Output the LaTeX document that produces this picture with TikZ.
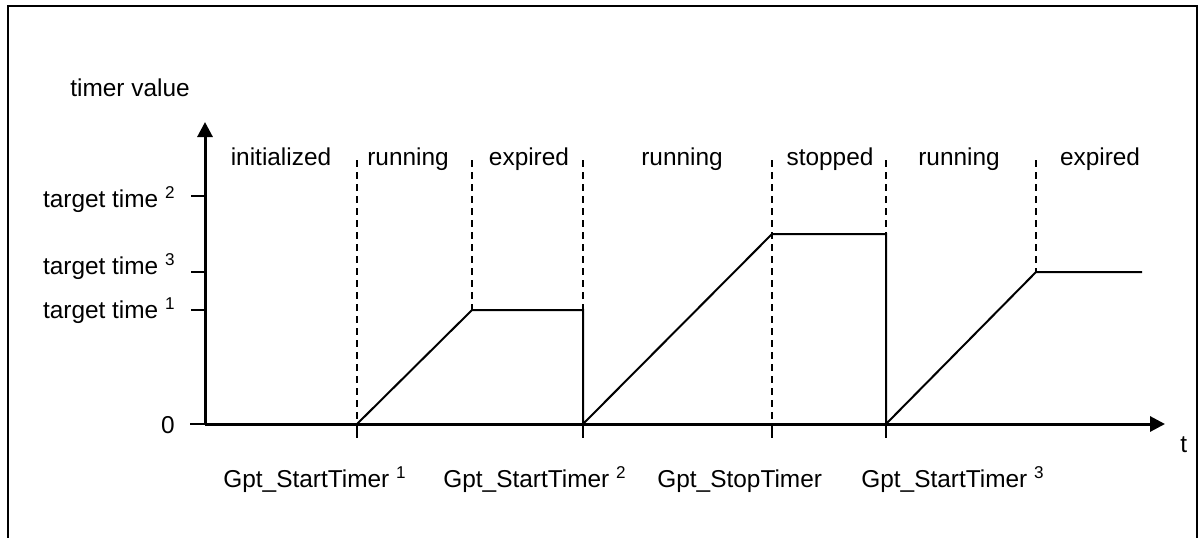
\documentclass[tikz,border=0pt]{standalone}
\usepackage{fontspec}
\setmainfont{Liberation Sans}
\usetikzlibrary{arrows.meta}
\begin{document}
\begin{tikzpicture}[x=0.5pt,y=-0.5pt,
  lbl/.style={inner sep=0pt, font=\fontsize{12.2}{14}\selectfont},
  axisline/.style={line width=1.5pt},
  curveline/.style={line width=1pt, line join=miter},
  guide/.style={line width=1pt, dash pattern=on 3.5pt off 2.5pt},
  tickline/.style={line width=1pt},
  frameline/.style={line width=1pt}]
\useasboundingbox (0,0) rectangle (1202,537);
% frame
\coordinate (fbl) at (8,560);
\coordinate (ftl) at (8,6);
\coordinate (ftr) at (1197,6);
\coordinate (fbr) at (1197,560);
\draw[frameline] (fbl) -- (ftl) -- (ftr) -- (fbr);
% axes
\coordinate (O) at (205,424);
\coordinate (ytip) at (205,122);
\coordinate (xtip) at (1165,424);
\draw[axisline,-{Triangle[length=7.5pt,width=7.5pt]}] (O) -- (ytip);
\draw[axisline,-{Triangle[length=7.5pt,width=7.5pt]}] (O) -- (xtip);
% y ticks
\coordinate (yt2a) at (191,196); \coordinate (yt2b) at (205,196);
\coordinate (yt3a) at (191,272); \coordinate (yt3b) at (205,272);
\coordinate (yt1a) at (191,310); \coordinate (yt1b) at (205,310);
\coordinate (yt0a) at (190,424);
\draw[tickline] (yt2a) -- (yt2b);
\draw[tickline] (yt3a) -- (yt3b);
\draw[tickline] (yt1a) -- (yt1b);
\draw[tickline] (yt0a) -- (O);
% curve points
\coordinate (a1) at (357,424);
\coordinate (b1) at (472,310);
\coordinate (c1) at (583,310);
\coordinate (d1) at (583,424);
\coordinate (b2) at (772,234);
\coordinate (c2) at (886,234);
\coordinate (d2) at (886,424);
\coordinate (b3) at (1036,272);
\coordinate (e3) at (1142,272);
\draw[curveline] (a1) -- (b1) -- (c1) -- (d1) -- (b2) -- (c2) -- (d2) -- (b3) -- (e3);
% guides
\coordinate (g1) at (357,160);
\coordinate (g2) at (472,160);
\coordinate (g3) at (583,160);
\coordinate (g4) at (772,160);
\coordinate (g5) at (886,160);
\coordinate (g6) at (1036,160);
\coordinate (m4) at (772,424);
\draw[guide] (g1) -- (a1);
\draw[guide] (g2) -- (b1);
\draw[guide] (g3) -- (c1);
\draw[guide] (g4) -- (m4);
\draw[guide] (g5) -- (c2);
\draw[guide] (g6) -- (b3);
% ticks below axis
\coordinate (t1) at (357,438);
\coordinate (t2) at (583,438);
\coordinate (t3) at (772,438);
\coordinate (t4) at (886,438);
\draw[tickline] (a1) -- (t1);
\draw[tickline] (d1) -- (t2);
\draw[tickline] (m4) -- (t3);
\draw[tickline] (d2) -- (t4);
% labels
\node[lbl, anchor=base west] (ylab) at (70,96) {timer value};
\node[lbl, anchor=base west] (xlab) at (1180,452) {t};
\node[lbl, anchor=base east] (zero) at (175,433) {0};
\node[lbl, anchor=base east] (tt2) at (176,207) {target time \textsuperscript{2}};
\node[lbl, anchor=base east] (tt3) at (176,274) {target time \textsuperscript{3}};
\node[lbl, anchor=base east] (tt1) at (176,318) {target time \textsuperscript{1}};
% state labels
\node[lbl, anchor=base] (s1) at (281,165) {initialized};
\node[lbl, anchor=base] (s2) at (408,165) {running};
\node[lbl, anchor=base] (s3) at (529,165) {expired};
\node[lbl, anchor=base] (s4) at (682,165) {running};
\node[lbl, anchor=base] (s5) at (830,165) {stopped};
\node[lbl, anchor=base] (s6) at (959,165) {running};
\node[lbl, anchor=base] (s7) at (1100,165) {expired};
% event labels
\node[lbl, anchor=base west] (ev1) at (223,487) {Gpt\_StartTimer \textsuperscript{1}};
\node[lbl, anchor=base west] (ev2) at (443,487) {Gpt\_StartTimer \textsuperscript{2}};
\node[lbl, anchor=base west] (ev3) at (657,487) {Gpt\_StopTimer};
\node[lbl, anchor=base west] (ev4) at (861,487) {Gpt\_StartTimer \textsuperscript{3}};
\end{tikzpicture}
\end{document}
